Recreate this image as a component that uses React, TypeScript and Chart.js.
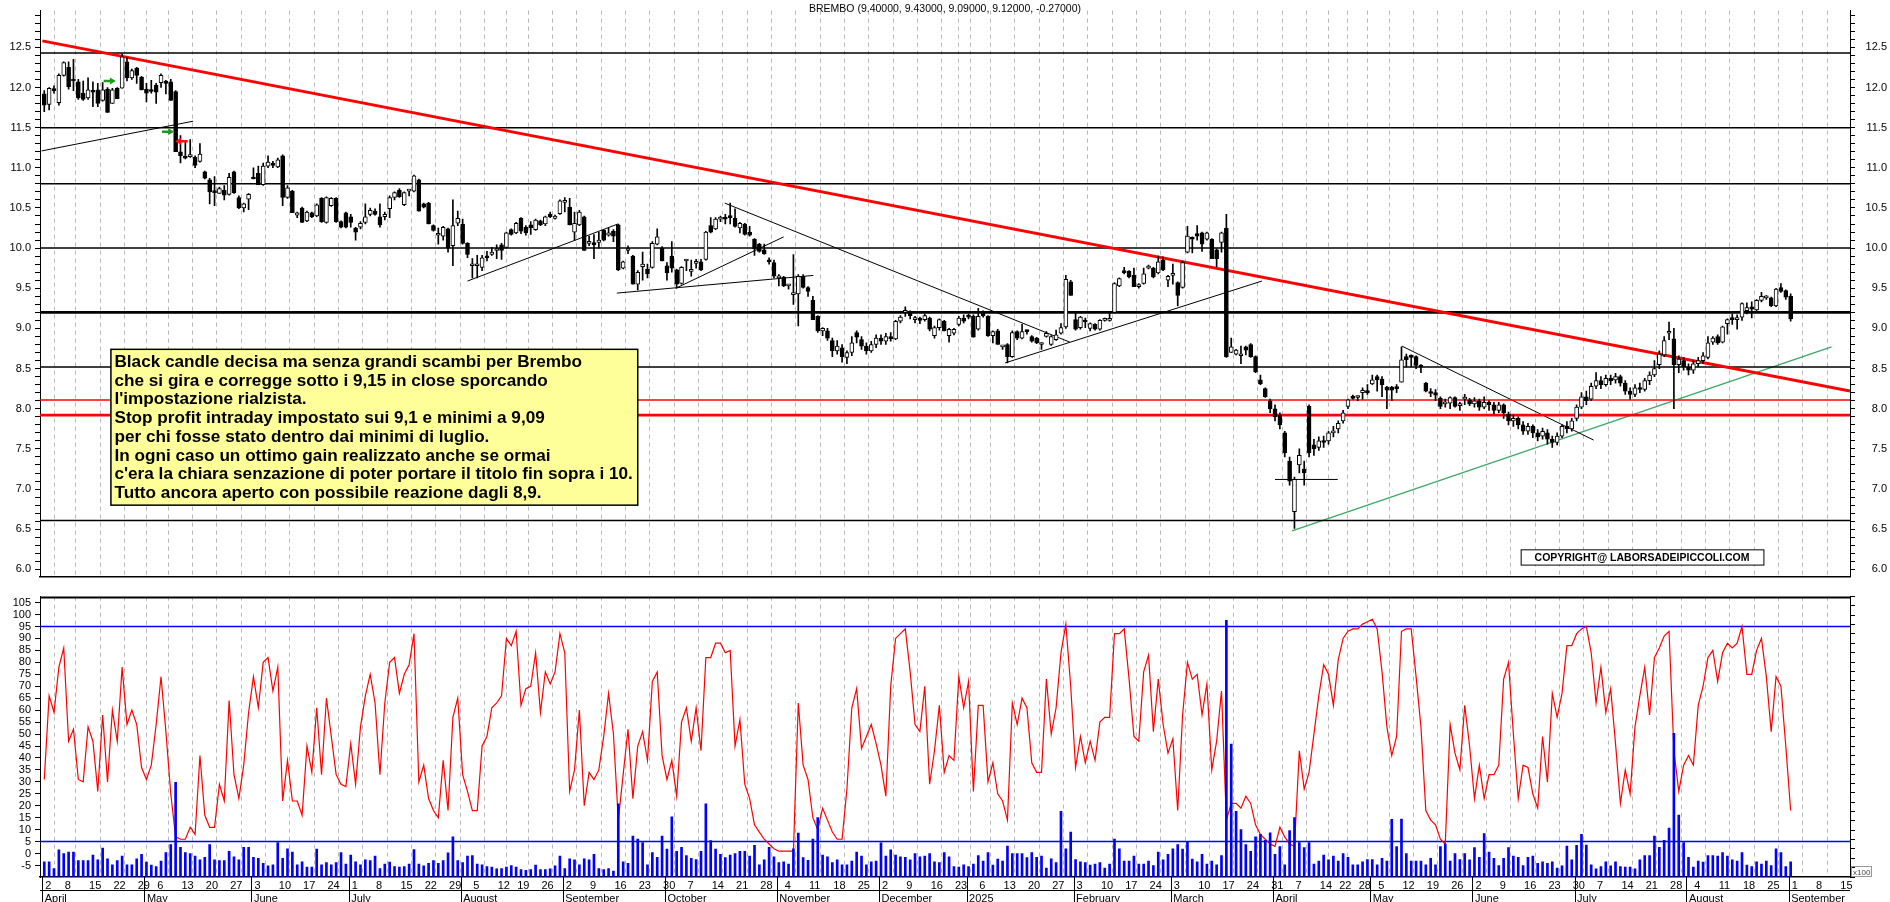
import React, { useEffect, useRef } from 'react';
import { Chart, registerables } from 'chart.js';

Chart.register(...registerables);

const FONT = '"Liberation Sans", Arial, Helvetica, sans-serif';

// ---------------- DATA ----------------
// daily candles: [open, high, low, close], first one = 2 April 2024
const candles: number[][] = [
[11.92,11.96,11.70,11.78],[11.79,12.00,11.72,11.99],[11.98,12.02,11.93,11.96],[11.81,12.17,11.78,12.15],[12.15,12.32,12.14,12.31],[12.25,12.32,11.98,12.01],[12.09,12.35,11.96,12.08],[12.07,12.10,11.85,11.87],[11.93,12.08,11.84,11.85],[11.87,12.12,11.85,11.97],
[11.96,12.07,11.76,11.94],[11.97,12.05,11.76,11.80],[11.84,12.06,11.83,11.97],[11.98,12.00,11.69,11.69],[11.80,11.99,11.80,11.97],[11.99,12.00,11.86,11.86],[11.99,12.42,11.99,12.38],[12.32,12.37,12.08,12.12],[12.12,12.23,12.10,12.21],[12.24,12.25,12.05,12.15],
[12.13,12.14,11.97,11.97],[11.98,12.05,11.82,11.93],[11.97,12.09,11.93,11.95],[12.03,12.05,11.80,11.94],[12.06,12.17,12.00,12.15],[12.08,12.09,11.92,12.05],[12.07,12.10,11.84,11.84],[11.95,11.96,11.20,11.20],[11.20,11.40,11.06,11.15],[11.14,11.33,11.11,11.12],
[11.14,11.35,11.13,11.14],[11.13,11.15,11.00,11.03],[11.08,11.30,11.07,11.17],[10.95,10.96,10.86,10.87],[10.85,10.87,10.55,10.70],[10.70,10.89,10.53,10.69],[10.68,10.76,10.68,10.74],[10.72,10.78,10.60,10.66],[10.67,10.93,10.66,10.88],[10.95,10.96,10.68,10.69],
[10.63,10.65,10.49,10.50],[10.50,10.56,10.45,10.55],[10.61,10.68,10.48,10.67],[10.87,11.00,10.86,10.86],[10.93,11.02,10.79,10.79],[10.79,11.06,10.78,11.02],[11.02,11.15,11.00,11.07],[11.05,11.08,11.00,11.03],[11.01,11.12,11.00,11.10],[11.15,11.16,10.53,10.63],
[10.63,10.78,10.62,10.75],[10.71,10.72,10.44,10.44],[10.41,10.45,10.38,10.44],[10.50,10.51,10.32,10.32],[10.34,10.46,10.33,10.45],[10.44,10.45,10.38,10.39],[10.40,10.55,10.39,10.54],[10.62,10.63,10.32,10.33],[10.32,10.64,10.31,10.63],[10.53,10.63,10.52,10.62],
[10.62,10.63,10.32,10.33],[10.33,10.34,10.25,10.26],[10.44,10.45,10.25,10.26],[10.39,10.42,10.26,10.32],[10.25,10.26,10.10,10.20],[10.26,10.33,10.24,10.31],[10.32,10.55,10.30,10.39],[10.42,10.50,10.40,10.47],[10.46,10.49,10.41,10.42],[10.39,10.55,10.26,10.29],
[10.39,10.45,10.35,10.42],[10.49,10.65,10.38,10.63],[10.63,10.70,10.60,10.69],[10.72,10.74,10.63,10.64],[10.54,10.70,10.53,10.69],[10.71,10.72,10.65,10.71],[10.71,10.91,10.70,10.90],[10.85,10.86,10.46,10.46],[10.55,10.56,10.50,10.51],[10.56,10.57,10.30,10.30],
[10.28,10.29,10.21,10.22],[10.16,10.25,10.05,10.16],[10.15,10.27,10.10,10.26],[10.24,10.25,9.95,10.00],[10.03,10.60,9.78,10.28],[10.31,10.46,10.28,10.37],[10.30,10.36,10.05,10.06],[10.06,10.07,9.88,9.92],[9.78,9.87,9.63,9.78],[9.78,9.91,9.63,9.80],
[9.76,9.91,9.72,9.88],[9.90,9.96,9.84,9.88],[9.92,10.01,9.91,9.95],[9.97,10.04,9.87,9.97],[10.04,10.06,9.86,9.97],[10.01,10.20,10.00,10.19],[10.23,10.24,10.16,10.17],[10.19,10.32,10.18,10.31],[10.37,10.38,10.18,10.21],[10.26,10.28,10.16,10.19],
[10.29,10.33,10.17,10.25],[10.23,10.36,10.22,10.35],[10.34,10.35,10.28,10.29],[10.30,10.40,10.28,10.39],[10.42,10.45,10.38,10.39],[10.37,10.41,10.36,10.40],[10.43,10.60,10.42,10.59],[10.57,10.63,10.45,10.57],[10.51,10.62,10.29,10.29],[10.20,10.45,10.10,10.31],
[10.29,10.47,10.28,10.45],[10.39,10.40,9.97,9.97],[10.06,10.15,10.03,10.08],[10.07,10.17,9.87,10.04],[10.07,10.20,10.00,10.10],[10.22,10.23,10.09,10.10],[10.16,10.25,10.15,10.19],[10.21,10.23,10.08,10.15],[10.29,10.30,9.72,9.73],[9.75,9.84,9.74,9.83],
[9.97,10.03,9.93,9.97],[9.90,9.91,9.55,9.55],[9.55,9.72,9.48,9.70],[9.77,9.95,9.60,9.80],[9.74,9.80,9.63,9.68],[9.76,10.08,9.75,10.06],[10.05,10.24,10.04,10.14],[10.00,10.02,9.84,9.84],[9.78,9.82,9.60,9.69],[9.90,10.08,9.70,9.75],
[9.73,9.74,9.50,9.55],[9.56,9.77,9.55,9.76],[9.84,9.86,9.72,9.84],[9.71,9.85,9.65,9.73],[9.81,9.86,9.75,9.83],[9.83,9.86,9.72,9.73],[9.86,10.21,9.85,10.20],[10.28,10.38,10.19,10.20],[10.24,10.38,10.23,10.36],[10.36,10.40,10.33,10.37],
[10.38,10.42,10.30,10.36],[10.39,10.56,10.30,10.38],[10.37,10.49,10.26,10.27],[10.25,10.32,10.19,10.31],[10.30,10.31,10.16,10.17],[10.20,10.27,10.15,10.16],[10.11,10.12,9.91,9.99],[10.05,10.06,9.95,9.96],[9.98,10.05,9.92,9.93],[9.85,9.88,9.80,9.83],
[9.82,9.85,9.63,9.65],[9.63,9.67,9.53,9.63],[9.64,9.65,9.52,9.53],[9.53,9.55,9.49,9.53],[9.42,9.92,9.30,9.44],[9.43,9.67,9.03,9.65],[9.65,9.67,9.50,9.51],[9.51,9.52,9.40,9.46],[9.35,9.40,9.11,9.11],[9.15,9.16,8.95,8.97],
[8.97,9.01,8.91,9.00],[8.97,9.00,8.85,8.88],[8.85,8.88,8.65,8.72],[8.72,8.85,8.68,8.78],[8.76,8.80,8.58,8.65],[8.64,8.72,8.56,8.70],[8.70,8.90,8.66,8.82],[8.95,8.97,8.82,8.89],[8.86,8.90,8.74,8.78],[8.78,8.82,8.68,8.72],
[8.72,8.84,8.70,8.80],[8.80,8.92,8.76,8.88],[8.88,8.92,8.80,8.84],[8.84,8.94,8.80,8.90],[8.90,8.95,8.84,8.87],[8.87,9.10,8.86,9.09],[9.09,9.16,9.07,9.14],[9.20,9.27,9.15,9.20],[9.20,9.22,9.12,9.16],[9.11,9.15,9.07,9.11],
[9.12,9.14,9.06,9.10],[9.11,9.18,9.09,9.16],[9.13,9.14,8.97,8.99],[8.91,9.03,8.88,9.01],[9.01,9.12,8.98,9.11],[9.09,9.10,8.97,8.97],[8.91,9.00,8.83,8.99],[8.94,9.00,8.92,8.99],[9.05,9.15,9.03,9.13],[9.13,9.17,9.07,9.09],
[9.15,9.18,9.12,9.14],[9.15,9.17,8.89,8.89],[8.99,9.25,8.98,9.15],[9.20,9.22,9.14,9.16],[9.15,9.16,8.90,8.91],[8.91,8.97,8.82,8.96],[8.97,8.99,8.80,8.80],[8.77,8.78,8.74,8.77],[8.80,8.81,8.57,8.65],[8.65,8.97,8.64,8.95],
[8.96,8.97,8.86,8.88],[8.88,9.05,8.87,8.96],[8.97,8.98,8.93,8.96],[8.90,8.91,8.83,8.84],[8.88,8.89,8.81,8.82],[8.80,8.82,8.74,8.82],[8.90,8.96,8.89,8.94],[8.80,8.91,8.79,8.90],[8.86,8.98,8.85,8.92],[8.94,9.06,8.93,9.01],
[9.02,9.66,9.00,9.61],[9.58,9.60,9.41,9.41],[9.11,9.21,8.98,8.99],[9.01,9.15,8.99,9.14],[9.10,9.13,9.01,9.08],[9.00,9.07,8.97,9.06],[9.05,9.06,8.98,8.99],[8.99,9.11,8.98,9.10],[9.10,9.13,9.09,9.11],[9.10,9.19,9.09,9.10],
[9.20,9.57,9.19,9.56],[9.53,9.63,9.52,9.62],[9.72,9.76,9.68,9.69],[9.71,9.72,9.63,9.64],[9.66,9.75,9.52,9.52],[9.52,9.56,9.50,9.52],[9.56,9.75,9.55,9.68],[9.75,9.79,9.74,9.77],[9.75,9.76,9.63,9.64],[9.69,9.90,9.68,9.83],
[9.85,9.89,9.72,9.73],[9.60,9.66,9.52,9.65],[9.66,9.80,9.55,9.68],[9.57,9.58,9.28,9.41],[9.51,9.84,9.50,9.82],[9.95,10.27,9.94,10.15],[10.13,10.14,9.94,10.11],[10.18,10.28,10.10,10.15],[10.19,10.20,9.96,10.05],[10.11,10.20,10.10,10.19],
[10.11,10.12,9.87,9.87],[9.98,9.99,9.77,9.87],[10.07,10.20,9.95,10.19],[10.25,10.42,8.64,8.65],[8.70,8.88,8.70,8.77],[8.68,8.74,8.67,8.73],[8.66,8.78,8.56,8.68],[8.77,8.78,8.67,8.73],[8.80,8.81,8.64,8.65],[8.65,8.66,8.45,8.46],
[8.36,8.42,8.30,8.31],[8.25,8.26,8.14,8.15],[8.10,8.12,7.95,8.00],[8.00,8.05,7.85,7.90],[7.92,7.95,7.75,7.80],[7.70,7.72,7.40,7.45],[7.35,7.40,7.05,7.10],[6.72,7.15,6.51,7.12],[7.30,7.50,7.20,7.42],[7.25,7.35,7.05,7.20],
[8.03,8.05,7.40,7.45],[7.55,7.62,7.42,7.50],[7.52,7.65,7.48,7.60],[7.60,7.66,7.52,7.58],[7.60,7.72,7.56,7.70],[7.70,7.78,7.65,7.72],[7.75,7.85,7.70,7.82],[7.85,7.98,7.82,7.95],[8.03,8.12,8.00,8.11],[8.15,8.17,8.12,8.13],
[8.14,8.16,8.10,8.14],[8.20,8.26,8.12,8.23],[8.22,8.30,8.18,8.20],[8.31,8.42,8.30,8.36],[8.40,8.42,8.22,8.36],[8.37,8.40,8.15,8.30],[8.27,8.28,8.00,8.23],[8.27,8.28,8.10,8.23],[8.26,8.30,8.20,8.25],[8.33,8.77,8.33,8.61],
[8.65,8.68,8.52,8.61],[8.66,8.67,8.52,8.64],[8.65,8.66,8.50,8.54],[8.54,8.55,8.45,8.52],[8.32,8.33,8.21,8.22],[8.21,8.25,8.15,8.19],[8.20,8.24,8.10,8.17],[8.13,8.15,8.00,8.03],[8.06,8.12,8.02,8.08],[8.07,8.15,8.00,8.14],
[8.14,8.15,8.02,8.03],[8.04,8.08,7.98,8.05],[8.12,8.18,8.05,8.14],[8.11,8.13,8.04,8.06],[8.06,8.14,8.02,8.10],[8.10,8.12,7.98,8.02],[8.02,8.15,8.00,8.08],[8.08,8.10,7.98,8.05],[8.05,8.08,7.94,7.98],[7.98,8.08,7.95,8.05],
[8.05,8.06,7.88,7.95],[7.93,7.96,7.80,7.85],[7.85,7.92,7.78,7.88],[7.88,7.90,7.75,7.80],[7.80,7.84,7.68,7.72],[7.72,7.82,7.68,7.78],[7.78,7.80,7.64,7.70],[7.70,7.74,7.60,7.65],[7.66,7.76,7.62,7.72],[7.70,7.74,7.56,7.62],
[7.62,7.66,7.52,7.58],[7.58,7.70,7.55,7.66],[7.66,7.80,7.64,7.78],[7.78,7.84,7.70,7.75],[7.75,7.88,7.72,7.85],[7.88,8.05,7.85,8.02],[8.02,8.20,8.00,8.15],[8.15,8.22,8.05,8.10],[8.12,8.32,8.10,8.28],[8.28,8.45,8.25,8.35],
[8.35,8.40,8.25,8.30],[8.30,8.42,8.28,8.38],[8.38,8.42,8.30,8.35],[8.36,8.44,8.32,8.40],[8.40,8.42,8.28,8.32],[8.32,8.35,8.18,8.22],[8.22,8.26,8.12,8.18],[8.18,8.30,8.15,8.26],[8.26,8.32,8.20,8.24],[8.24,8.38,8.22,8.35],
[8.35,8.46,8.30,8.42],[8.42,8.60,8.40,8.50],[8.55,8.72,8.50,8.68],[8.67,8.90,8.65,8.85],[8.94,9.08,8.86,8.94],[8.87,9.00,8.00,8.55],[8.55,8.66,8.45,8.62],[8.60,8.64,8.48,8.52],[8.52,8.56,8.42,8.48],[8.48,8.60,8.44,8.56],
[8.56,8.64,8.52,8.60],[8.60,8.70,8.56,8.66],[8.64,8.90,8.62,8.82],[8.83,8.90,8.80,8.88],[8.90,8.92,8.80,8.82],[8.83,9.03,8.82,9.02],[9.06,9.12,8.93,9.11],[9.12,9.18,9.05,9.11],[9.11,9.17,8.99,9.11],[9.14,9.32,9.10,9.31],
[9.22,9.32,9.18,9.26],[9.27,9.33,9.13,9.24],[9.23,9.36,9.22,9.35],[9.35,9.45,9.33,9.40],[9.38,9.41,9.36,9.38],[9.38,9.39,9.27,9.28],[9.28,9.50,9.27,9.49],[9.51,9.56,9.45,9.46],[9.47,9.48,9.36,9.39],[9.40,9.43,9.09,9.12],
];

// oscillator (red line, left scale 0-100)
const oscillator: number[] = [
31,66,59,78,86,47,52,31,30,53, 47,26,58,30,60,47,78,54,60,54, 36,31,37,54,74,51,25,7,6,6, 11,8,41,16,11,11,29,22,64,33,
23,37,59,74,61,80,82,68,78,22, 39,22,22,16,45,34,61,33,65,49, 33,29,28,46,29,53,66,75,63,33, 63,80,82,67,75,79,92,30,37,23,
18,15,39,18,57,65,33,26,18,18, 45,49,61,63,66,90,87,93,62,69, 70,84,59,76,71,76,92,84,26,35, 60,20,34,31,35,49,67,50,14,33,
52,23,45,51,39,72,76,41,31,39, 24,55,61,47,61,43,82,82,88,88, 84,85,45,56,29,23,12,9,6,4, 2,1,1,1,1,63,37,31,15,10,
19,14,9,6,6,27,61,69,44,49, 54,46,37,24,70,90,92,94,76,54, 51,70,29,43,62,34,41,39,74,61, 72,26,62,62,30,38,25,22,14,63,
54,65,61,38,34,34,73,50,61,84, 96,70,36,49,38,47,39,55,57,57, 92,92,94,73,49,47,76,83,51,73, 54,42,48,18,58,80,73,75,58,71,
35,47,68,14,21,21,19,24,21,12, 8,6,4,3,11,7,4,3,43,27, 34,50,66,79,75,62,81,90,93,94, 94,96,97,98,94,76,53,41,49,93,
94,94,74,53,18,14,12,6,4,54, 42,35,62,45,23,37,23,33,33,37, 73,80,50,23,37,36,25,19,49,30, 67,57,67,87,87,92,94,95,84,63,
78,59,69,46,21,35,25,53,66,78, 58,82,86,91,93,43,26,37,41,37, 62,70,82,85,72,84,88,86,88,95, 75,75,85,90,74,51,74,70,45,18,
];

// volume (blue bars, right scale, x100)
const volume: number[] = [
4100,4100,2300,7300,6300,6700,6700,4400,4400,4400, 5900,4600,7800,4900,3300,4400,5600,3300,3300,4900,
6100,4000,3200,2800,4300,6600,8700,25500,8000,6600, 6300,5600,4600,5300,8700,4600,4400,4400,6900,5400,
4600,8000,8000,5300,5000,3700,3000,3300,9300,5000, 7600,6700,3300,4100,2700,2700,7500,3300,3900,3300,
3900,6600,3500,5900,4100,3300,4600,4400,5600,2300, 3500,4000,2800,2700,2800,3500,7400,3500,3000,3700,
4400,3700,4400,6500,10800,4400,3900,5600,5800,3500, 3300,2800,2700,2200,2300,2700,3100,2700,2000,1800,
2000,3200,2000,2000,2200,3000,5600,2300,4900,4600, 3300,4900,4600,6100,2300,2000,2300,1600,19700,4100,
3700,11000,10200,
9300,3300,6600,5300,11000,7500,16200,6900,8000,5800, 5000,4700,6900,19700,9800,7500,6100,5200,5900,6300,
6900,6900,5600,8500,3300,4600,8000,5400,3900,4100, 3500,7600,11800,5200,4500,10200,16000,5900,5400,3900,
4600,3300,3300,4300,6700,5600,3300,4100,4300,9200, 5600,7300,5900,5400,5300,4600,6300,5400,5600,6300,
4100,3900,6600,5400,2800,2700,3300,2800,3500,5800, 4300,6600,3200,4800,4300,8300,6300,6300,6300,5200,
6600,5300,5600,2400,4900,3900,17700,7600,12100,4700, 4100,3900,3200,3500,3900,2400,3500,10200,7600,4300,
4300,5600,3500,3500,4300,3100,6700,4600,6100,7600, 8700,7500,9500,4800,4100,6100,3500,4300,3300,5800,
69100,35800,17700,12800,8700,6900,10800,11500,9900,11900, 6100,
8200,3300,12500,16000,9300,7900,9300,3500,4300,5900, 4600,5600,4300,6300,5300,3300,3300,4100,4700,4700,
3300,5000,4300,15500,8200,15600,6300,4300,4300,4300, 3300,5000,3300,8200,8900,4300,6300,4700,6300,4600,
7900,5300,11700,6700,5000,3100,5000,7900,5600,5300, 3100,5300,5600,3700,4100,3700,4100,2400,3000,8300,
4600,8500,11500,8600,3300,2200,2800,4100,3000,4100, 2800,2700,2700,2200,4600,5800,5800,11000,8000,9900,
13200,38700,16700,9300,5300,2700,4300,4000,5800,5800, 5600,6600,5600,4600,4300,6600,3200,2800,4100,3500,
4300,3100,7600,6600,2800,4100,
];

// calendar
const FIRST_DAY_UTC = Date.UTC(2024, 3, 2);
const HOLIDAYS = ['2024-05-01','2024-08-15','2024-12-24','2024-12-25','2024-12-26','2024-12-31','2025-01-01','2025-04-18','2025-04-21','2025-05-01'];
const FUTURE_SLOTS = 13;
const MONTH_NAMES = ['January','February','March','April','May','June','July','August','September','October','November','December'];

// texts
const TITLE = 'BREMBO (9.40000, 9.43000, 9.09000, 9.12000, -0.27000)';
const NOTE_LINES = [
  'Black candle decisa ma senza grandi scambi per Brembo',
  'che si gira e corregge sotto i 9,15 in close sporcando',
  "l'impostazione rialzista.",
  'Stop profit intraday impostato sui 9,1 e minimi a 9,09',
  'per chi fosse stato dentro dai minimi di luglio.',
  'In ogni caso un ottimo gain realizzato anche se ormai',
  "c'era la chiara senzazione di poter portare il titolo fin sopra i 10.",
  'Tutto ancora aperto con possibile reazione dagli 8,9.',
];
const COPYRIGHT = 'COPYRIGHT@ LABORSADEIPICCOLI.COM';

// drawn levels / trend lines (index, price)
const blackLevels = [12.43, 11.5, 10.8, 10.0, 8.52, 6.61];
const thickBlackLevels = [9.2];
const redLevels = [8.11];
const thickRedLevels = [7.92];
const oscLevels = [95, 5];
const redTrend = [[-0.4, 12.58], [371.2, 8.22]];
const blackTrends = [
  [[-0.55, 11.21], [30.6, 11.58]],
  [[87.0, 9.59], [117.9, 10.30]],
  [[117.7, 9.44], [158.1, 9.66]],
  [[129.8, 9.50], [152.0, 10.14]],
  [[139.9, 10.56], [210.8, 8.83]],
  [[197.5, 8.57], [250.3, 9.59]],
  [[253.0, 7.12], [265.9, 7.12]],
  [[279.1, 8.78], [318.5, 7.61]],
];
const greenTrend = [[256.5, 6.48], [367.4, 8.77]];
const greenArrows = [[12.2, 13.9, 12.08], [24.2, 25.9, 11.45]];
const redArrows = [[29.5, 27.7, 11.33]];
const noteBox = { from: 13.7, to: 122.0, top: 8.74, bottom: 6.80 };
const copyrightBox = { from: 303.5, to: 353.4, top: 6.25, bottom: 6.06 };

const X_MIN = -0.88, X_MAX = 371.2;
const PRICE_MIN = 5.913, PRICE_MAX = 12.957;
const OSC_MIN = -9.8, OSC_MAX = 107.5;
const VOL_MAX = 75500;

// ---------------- CALENDAR HELPERS ----------------
function buildDates(n: number): Date[] {
  const out: Date[] = [];
  const hol = new Set(HOLIDAYS);
  let t = FIRST_DAY_UTC;
  while (out.length < n) {
    const d = new Date(t);
    const wd = d.getUTCDay();
    if (wd !== 0 && wd !== 6 && !hol.has(d.toISOString().slice(0, 10))) out.push(d);
    t += 86400000;
  }
  return out;
}
const dates = buildDates(candles.length + FUTURE_SLOTS);
const weekStarts: number[] = [];
const weekLabels: { i: number; text: string }[] = [];
const monthStarts: { i: number; text: string }[] = [];
(() => {
  let last = -99;
  dates.forEach((d, i) => {
    const p = dates[i - 1];
    const newWeek = i === 0 || d.getUTCDay() < p.getUTCDay() || d.getTime() - p.getTime() >= 7 * 86400000;
    if (newWeek) {
      weekStarts.push(i);
      if (i - last >= 3) { weekLabels.push({ i, text: String(d.getUTCDate()) }); last = i; }
    }
    if (i === 0 || d.getUTCMonth() !== p.getUTCMonth()) {
      monthStarts.push({ i, text: d.getUTCMonth() === 0 ? String(d.getUTCFullYear()) : MONTH_NAMES[d.getUTCMonth()] });
    }
  });
})();

// ---------------- CHART HELPERS ----------------
const seg = (a: number[], b: number[], color: string, width: number, order = 20): any => ({
  type: 'line', data: [{ x: a[0], y: a[1] }, { x: b[0], y: b[1] }], borderColor: color, borderWidth: width,
  pointRadius: 0, yAxisID: 'y', order, tension: 0,
});
const level = (v: number, color: string, width: number, order = 20) => seg([X_MIN, v], [X_MAX, v], color, width, order);
const arrow = (a: number[], color: string): any => ({
  type: 'line', data: [{ x: a[0], y: a[2] }, { x: a[1], y: a[2] }], borderColor: color, borderWidth: 2.5,
  pointRadius: (c: any) => (c.dataIndex === 1 ? 4 : 0), pointStyle: 'triangle', pointRotation: a[1] > a[0] ? 90 : -90,
  pointBackgroundColor: color, pointBorderColor: color, pointBorderWidth: 0, yAxisID: 'y', order: 1,
});

const xScale = (height: number, borderWidth: number): any => ({
  type: 'linear', min: X_MIN, max: X_MAX, offset: false,
  afterBuildTicks: (s: any) => { s.ticks = weekStarts.map((v) => ({ value: v })); },
  afterFit: (s: any) => { s.height = height; },
  ticks: { display: false },
  grid: { display: true, drawTicks: false, color: '#b8b8b8', lineWidth: 1 },
  border: { display: true, color: '#000', width: borderWidth, dash: [4, 4] },
});
const yScale = (pos: string, min: number, max: number, step: number, label: (v: number) => string): any => ({
  position: pos, min, max,
  afterFit: (s: any) => { s.width = pos === 'left' ? 40 : 37; },
  ticks: {
    stepSize: step, includeBounds: false, autoSkip: false, color: '#000', padding: 4,
    crossAlign: pos === 'left' ? 'near' : 'far', font: { family: FONT, size: 11 },
    callback: (v: any) => label(Number(v)),
  },
  grid: { drawOnChartArea: false, drawTicks: true, tickLength: 5, color: '#000', tickColor: '#000' },
  border: { display: true, color: '#000', width: 1 },
});
const near = (v: number, step: number) => Math.abs(v / step - Math.round(v / step)) < 1e-6;

const priceAnnotations = {
  id: 'priceAnnotations',
  afterDatasetsDraw(chart: any) {
    const { ctx } = chart;
    const xs = chart.scales.x, ys = chart.scales.y;
    ctx.save();
    // note box
    const x0 = xs.getPixelForValue(noteBox.from), x1 = xs.getPixelForValue(noteBox.to);
    const y0 = ys.getPixelForValue(noteBox.top), y1 = ys.getPixelForValue(noteBox.bottom);
    ctx.fillStyle = '#ffff99';
    ctx.fillRect(x0, y0, x1 - x0, y1 - y0);
    ctx.strokeStyle = '#000'; ctx.lineWidth = 1.5;
    ctx.strokeRect(x0, y0, x1 - x0, y1 - y0);
    let fs = 17;
    ctx.font = `bold ${fs}px ${FONT}`;
    const widest = Math.max(...NOTE_LINES.map((l) => ctx.measureText(l).width));
    fs = Math.min(18, fs * (x1 - x0 - 8) / widest);
    ctx.font = `bold ${fs}px ${FONT}`;
    ctx.fillStyle = '#000'; ctx.textAlign = 'left'; ctx.textBaseline = 'alphabetic';
    const lh = (y1 - y0 - 6) / NOTE_LINES.length;
    NOTE_LINES.forEach((l, k) => ctx.fillText(l, x0 + 3.5, y0 + 3 + lh * k + lh * 0.78));
    // copyright
    const cx0 = xs.getPixelForValue(copyrightBox.from), cx1 = xs.getPixelForValue(copyrightBox.to);
    const cy0 = ys.getPixelForValue(copyrightBox.top), cy1 = ys.getPixelForValue(copyrightBox.bottom);
    ctx.fillStyle = '#ffffff';
    ctx.fillRect(cx0, cy0, cx1 - cx0, cy1 - cy0);
    ctx.strokeStyle = '#000'; ctx.lineWidth = 1;
    ctx.strokeRect(cx0 + 0.5, cy0 + 0.5, cx1 - cx0, cy1 - cy0);
    ctx.font = `bold 10.5px ${FONT}`;
    ctx.fillStyle = '#000'; ctx.textAlign = 'center'; ctx.textBaseline = 'middle';
    ctx.fillText(COPYRIGHT, (cx0 + cx1) / 2, (cy0 + cy1) / 2 + 1);
    // title
    ctx.font = `10.5px ${FONT}`;
    ctx.fillText(TITLE, chart.width / 2, 9);
    ctx.restore();
  },
};

const lowerAxis = {
  id: 'lowerAxis',
  afterDraw(chart: any) {
    const { ctx } = chart;
    const { left, right, top, bottom } = chart.chartArea;
    const xs = chart.scales.x;
    ctx.save();
    ctx.strokeStyle = '#000';
    ctx.lineWidth = 2;
    ctx.beginPath(); ctx.moveTo(left, top + 1); ctx.lineTo(right, top + 1); ctx.stroke();
    ctx.lineWidth = 1;
    ctx.beginPath(); ctx.moveTo(left, bottom + 13.5); ctx.lineTo(right, bottom + 13.5); ctx.stroke();
    ctx.beginPath();
    monthStarts.forEach((m) => {
      const px = Math.round(xs.getPixelForValue(m.i)) - 1.5;
      ctx.moveTo(px, bottom); ctx.lineTo(px, bottom + 26);
    });
    ctx.stroke();
    ctx.fillStyle = '#000';
    ctx.font = `11px ${FONT}`;
    ctx.textAlign = 'left'; ctx.textBaseline = 'alphabetic';
    weekLabels.forEach((w) => ctx.fillText(w.text, xs.getPixelForValue(w.i) + 1, bottom + 11.5));
    monthStarts.forEach((m) => ctx.fillText(m.text, xs.getPixelForValue(m.i) + 0.5, bottom + 24.5));
    // x100 tag
    ctx.strokeStyle = '#999'; ctx.lineWidth = 1;
    ctx.strokeRect(right + 1.5, bottom - 10.5, 20, 10);
    ctx.fillStyle = '#444'; ctx.font = `8px ${FONT}`;
    ctx.fillText('x100', right + 3, bottom - 2.5);
    ctx.restore();
  },
};

export default function App() {
  const refA = useRef<HTMLCanvasElement>(null);
  const refB = useRef<HTMLCanvasElement>(null);

  useEffect(() => {
    document.body.style.margin = '0';
    document.body.style.overflow = 'hidden';

    const wickData = candles.map((c, i) => ({ x: i, y: [c[2], c[1]] }));
    const bodyData = candles.map((c, i) => ({ x: i, y: [Math.min(c[0], c[3]), Math.max(c[0], c[3])] }));
    const bodyColors = candles.map((c) => (c[3] >= c[0] ? '#ffffff' : '#000000'));

    const priceDatasets: any[] = [
      ...blackLevels.map((v) => level(v, '#000', 1.5)),
      ...thickBlackLevels.map((v) => level(v, '#000', 2.8)),
      ...redLevels.map((v) => level(v, '#ff0000', 1.5)),
      ...thickRedLevels.map((v) => level(v, '#ff0000', 2.8)),
      ...blackTrends.map((t) => seg(t[0], t[1], '#000', 1)),
      seg(greenTrend[0], greenTrend[1], '#3aa864', 1.2),
      seg(redTrend[0], redTrend[1], '#ff0000', 3, 15),
      { type: 'bar', data: wickData, backgroundColor: '#000', barThickness: 1, grouped: false, yAxisID: 'y', order: 10 },
      {
        type: 'bar', data: bodyData, backgroundColor: bodyColors, borderColor: '#000', borderWidth: 1,
        borderSkipped: false, barThickness: 4, minBarLength: 2, grouped: false, yAxisID: 'y', order: 9,
      },
      ...greenArrows.map((a) => arrow(a, '#1c9a1c')),
      ...redArrows.map((a) => arrow(a, '#ff1010')),
    ];

    const common: any = {
      responsive: false, animation: false, devicePixelRatio: 1, events: [],
      layout: { autoPadding: false, padding: { left: 0, right: 3, top: 0, bottom: 0 } },
      plugins: { legend: { display: false }, tooltip: { enabled: false } },
    };

    const chartA = new Chart(refA.current as any, {
      type: 'bar',
      data: { datasets: priceDatasets },
      options: {
        ...common,
        scales: {
          x: xScale(1, 1.5),
          y: yScale('left', PRICE_MIN, PRICE_MAX, 0.1, (v) => (near(v, 0.5) ? v.toFixed(1) : '')),
          y2: yScale('right', PRICE_MIN, PRICE_MAX, 0.1, (v) => (near(v, 0.5) ? v.toFixed(1) : '')),
        },
      } as any,
      plugins: [priceAnnotations],
    } as any);

    const lowerDatasets: any[] = [
      {
        type: 'bar', data: volume.map((v, i) => ({ x: i, y: v })), backgroundColor: '#0000ff',
        barThickness: 2, grouped: false, yAxisID: 'y2', order: 1,
      },
      {
        type: 'line', data: oscillator.map((v, i) => ({ x: i, y: v })), borderColor: '#ff0000', borderWidth: 1.2,
        pointRadius: 0, tension: 0, yAxisID: 'y', order: 2,
      },
      ...oscLevels.map((v) => level(v, '#0000ff', 1.5, 3)),
    ];

    const chartB = new Chart(refB.current as any, {
      type: 'bar',
      data: { datasets: lowerDatasets },
      options: {
        ...common,
        scales: {
          x: xScale(25, 1.5),
          y: yScale('left', OSC_MIN, OSC_MAX, 5, (v) => (v >= -5 && v <= 105 ? String(Math.round(v)) : '')),
          y2: yScale('right', 0, VOL_MAX, 2500, (v) => (near(v, 5000) && v > 0 && v <= 70000 ? String(Math.round(v)) : '')),
        },
      } as any,
      plugins: [lowerAxis],
    } as any);

    return () => { chartA.destroy(); chartB.destroy(); };
  }, []);

  return (
    <div style={{ position: 'absolute', left: 0, top: 0, width: 1890, height: 902, background: '#ffffff', overflow: 'hidden' }}>
      <canvas ref={refA} width={1890} height={587} style={{ position: 'absolute', left: 0, top: 0, width: 1890, height: 587 }} />
      <canvas ref={refB} width={1890} height={316} style={{ position: 'absolute', left: 0, top: 586, width: 1890, height: 316 }} />
    </div>
  );
}
